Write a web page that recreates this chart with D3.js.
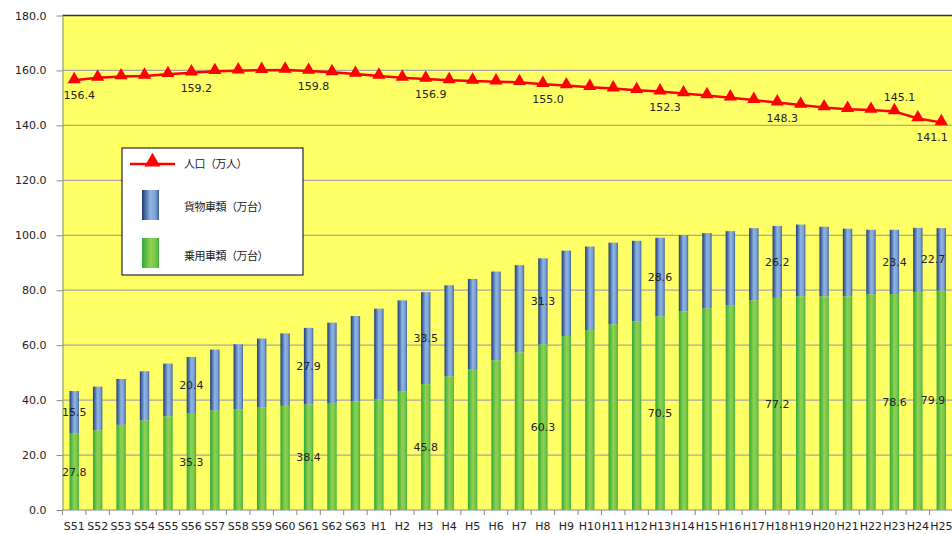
<!DOCTYPE html>
<html>
<head>
<meta charset="utf-8">
<script src="https://cdn.jsdelivr.net/npm/d3@7"></script>
<style>
  body { margin: 0; background: #fff; }
  svg text { font-family: "DejaVu Sans", sans-serif; fill: #222; }
  .jp { font-family: "Noto Sans CJK JP", sans-serif; }
</style>
</head>
<body>
<svg id="chart" width="952" height="534"></svg>
<script>
// categories (S51..S63, H1..H25)
const categories = [
    "S51", "S52", "S53", "S54", "S55", "S56", "S57", "S58", "S59", "S60", "S61", "S62", "S63",
    "H1", "H2", "H3", "H4", "H5", "H6", "H7", "H8", "H9", "H10", "H11", "H12", "H13", "H14",
    "H15", "H16", "H17", "H18", "H19", "H20", "H21", "H22", "H23", "H24", "H25"
];
// 乗用車類 (万台)
const passengerCars = [
    27.8, 29.0, 31.0, 32.6, 34.1, 35.3, 36.2, 36.7, 37.4, 37.9, 38.4, 38.7, 39.5,
    40.3, 43.1, 45.8, 48.6, 51.3, 54.5, 57.3, 60.3, 63.3, 65.5, 67.6, 68.7, 70.5, 72.3,
    73.4, 74.6, 76.3, 77.2, 77.8, 77.8, 77.8, 78.5, 78.6, 79.3, 79.9
];
// 貨物車類 (万台)
const freightCars = [
    15.5, 15.9, 16.7, 17.9, 19.2, 20.4, 22.2, 23.6, 25.0, 26.4, 27.9, 29.5, 31.1,
    33.0, 33.2, 33.5, 33.2, 32.8, 32.3, 31.8, 31.3, 31.1, 30.4, 29.7, 29.3, 28.6, 27.8,
    27.4, 26.9, 26.3, 26.2, 26.1, 25.3, 24.6, 23.5, 23.4, 23.4, 22.7
];
// 人口 (万人)
const population = [
    156.4, 157.3, 157.8, 158.0, 158.6, 159.2, 159.7, 159.9, 160.1, 160.2, 159.8, 159.3, 158.7,
    158.0, 157.3, 156.9, 156.4, 156.2, 155.9, 155.7, 155.0, 154.5, 153.9, 153.4, 152.8, 152.3, 151.6,
    150.9, 150.1, 149.2, 148.3, 147.4, 146.5, 145.9, 145.6, 145.1, 142.5, 141.1
];
// which points carry a value label
const labelledIndexes = [0, 5, 10, 15, 20, 25, 30, 35, 37];
const yTicks = [0, 20, 40, 60, 80, 100, 120, 140, 160, 180];

const svg = d3.select("#chart");
const plot = { left: 62.5, right: 953, top: 15.5, bottom: 510 };

const x = d3.scaleBand().domain(categories).range([plot.left, plot.right]).paddingInner(0.6).paddingOuter(0.3);
const y = d3.scaleLinear().domain([0, 180]).range([plot.bottom, plot.top]);
const cx = (c) => x(c) + x.bandwidth() / 2;

// gradients for the bar fills
const defs = svg.append("defs");
function addGradient(id, stops) {
    const g = defs.append("linearGradient").attr("id", id).attr("x1", "0").attr("x2", "1").attr("y1", "0").attr("y2", "0");
    stops.forEach((s) => g.append("stop").attr("offset", s[0]).attr("stop-color", s[1]));
}
addGradient("gradBlue", [[0, "#1f3a6e"], [0.2, "#4a6ea8"], [0.5, "#8fb4e3"], [0.8, "#7a9fd2"], [1, "#3d5f98"]]);
addGradient("gradGreen", [[0, "#2fa83a"], [0.25, "#5cbf45"], [0.5, "#92d050"], [0.8, "#78c64a"], [1, "#3fb040"]]);

// plot background
svg.append("rect")
    .attr("x", plot.left).attr("y", plot.top)
    .attr("width", plot.right - plot.left).attr("height", plot.bottom - plot.top)
    .attr("fill", "#ffff66");

// gridlines
svg.append("g")
    .selectAll("line")
    .data(yTicks.filter((t) => t > 0))
    .join("line")
    .attr("x1", plot.left).attr("x2", plot.right)
    .attr("y1", (d) => y(d)).attr("y2", (d) => y(d))
    .attr("stroke", (d) => (d === 180 ? "#333" : "#a6a6a6"))
    .attr("stroke-width", (d) => (d === 180 ? 1.5 : 1.2));

// y axis
const yAxis = svg.append("g")
    .attr("transform", `translate(${plot.left},0)`)
    .call(d3.axisLeft(y).tickValues(yTicks).tickFormat(d3.format(".1f")).tickSize(6).tickSizeOuter(0).tickPadding(10));
yAxis.select(".domain").attr("stroke", "#888");
yAxis.selectAll(".tick line").attr("stroke", "#888");
yAxis.selectAll("text").attr("font-size", 11).attr("fill", "#222").style("font-family", "DejaVu Sans, sans-serif");

// x axis: labels at band centres, ticks at band edges
svg.append("line")
    .attr("x1", plot.left).attr("x2", plot.right)
    .attr("y1", plot.bottom).attr("y2", plot.bottom)
    .attr("stroke", "#888");
svg.append("g")
    .selectAll("line")
    .data(categories)
    .join("line")
    .attr("x1", (d) => x(d) - x.step() * x.paddingInner() / 2)
    .attr("x2", (d) => x(d) - x.step() * x.paddingInner() / 2)
    .attr("y1", plot.bottom).attr("y2", plot.bottom + 5)
    .attr("stroke", "#888");
svg.append("g")
    .selectAll("text")
    .data(categories)
    .join("text")
    .attr("x", (d) => cx(d))
    .attr("y", 530)
    .attr("text-anchor", "middle")
    .attr("font-size", 11)
    .text((d) => d);

// stacked bars
const bars = svg.append("g");
bars.selectAll("rect.green")
    .data(categories)
    .join("rect")
    .attr("class", "green")
    .attr("x", (d) => x(d))
    .attr("width", x.bandwidth())
    .attr("y", (d, i) => y(passengerCars[i]))
    .attr("height", (d, i) => y(0) - y(passengerCars[i]))
    .attr("fill", "url(#gradGreen)");
bars.selectAll("rect.blue")
    .data(categories)
    .join("rect")
    .attr("class", "blue")
    .attr("x", (d) => x(d))
    .attr("width", x.bandwidth())
    .attr("y", (d, i) => y(passengerCars[i] + freightCars[i]))
    .attr("height", (d, i) => y(passengerCars[i]) - y(passengerCars[i] + freightCars[i]))
    .attr("fill", "url(#gradBlue)");

// bar value labels (kept inside the window at the right edge)
const barLabels = svg.append("g").attr("font-size", 11).attr("text-anchor", "middle");
labelledIndexes.forEach((i) => {
    const c = categories[i];
    const lx = Math.min(cx(c), 933);
    barLabels.append("text")
        .attr("x", lx)
        .attr("y", y(passengerCars[i] / 2) + 4)
        .text(passengerCars[i].toFixed(1));
    barLabels.append("text")
        .attr("x", lx)
        .attr("y", y(passengerCars[i] + freightCars[i] / 2) + 4)
        .text(freightCars[i].toFixed(1));
});

// population line
const line = d3.line().x((d, i) => cx(categories[i])).y((d) => y(d));
svg.append("path")
    .datum(population)
    .attr("d", line)
    .attr("fill", "none")
    .attr("stroke", "#ff0000")
    .attr("stroke-width", 2.5);
const triangle = d3.symbol().type(d3.symbolTriangle).size(75);
svg.append("g")
    .selectAll("path")
    .data(population)
    .join("path")
    .attr("transform", (d, i) => `translate(${cx(categories[i])},${y(d) - 1})`)
    .attr("d", triangle)
    .attr("fill", "#ff0000");

// population value labels (145.1 sits above its point)
svg.append("g")
    .attr("font-size", 11)
    .attr("text-anchor", "middle")
    .selectAll("text")
    .data(labelledIndexes)
    .join("text")
    .attr("x", (i) => Math.min(cx(categories[i]) + 5, 932))
    .attr("y", (i) => (i === 35 ? y(population[i]) - 10 : y(population[i]) + 19))
    .text((i) => population[i].toFixed(1));

// legend
const legend = svg.append("g").attr("transform", "translate(122,148)");
legend.append("rect")
    .attr("width", 181).attr("height", 127)
    .attr("fill", "#fff").attr("stroke", "#000").attr("stroke-width", 1);
legend.append("line")
    .attr("x1", 8).attr("x2", 53).attr("y1", 16).attr("y2", 16)
    .attr("stroke", "#ff0000").attr("stroke-width", 2.5);
legend.append("path")
    .attr("transform", "translate(30.5,14)")
    .attr("d", d3.symbol().type(d3.symbolTriangle).size(110))
    .attr("fill", "#ff0000");
legend.append("rect")
    .attr("x", 20).attr("y", 42).attr("width", 17).attr("height", 30)
    .attr("fill", "url(#gradBlue)");
legend.append("rect")
    .attr("x", 20).attr("y", 90).attr("width", 17).attr("height", 30)
    .attr("fill", "url(#gradGreen)");
const legendTexts = [
    { label: "人口（万人）", y: 20 },
    { label: "貨物車類（万台）", y: 63 },
    { label: "乗用車類（万台）", y: 112 }
];
legend.selectAll("text.jp")
    .data(legendTexts)
    .join("text")
    .attr("class", "jp")
    .attr("x", 62)
    .attr("y", (d) => d.y)
    .attr("font-size", 11)
    .attr("letter-spacing", -0.5)
    .text((d) => d.label);
</script>
</body>
</html>
